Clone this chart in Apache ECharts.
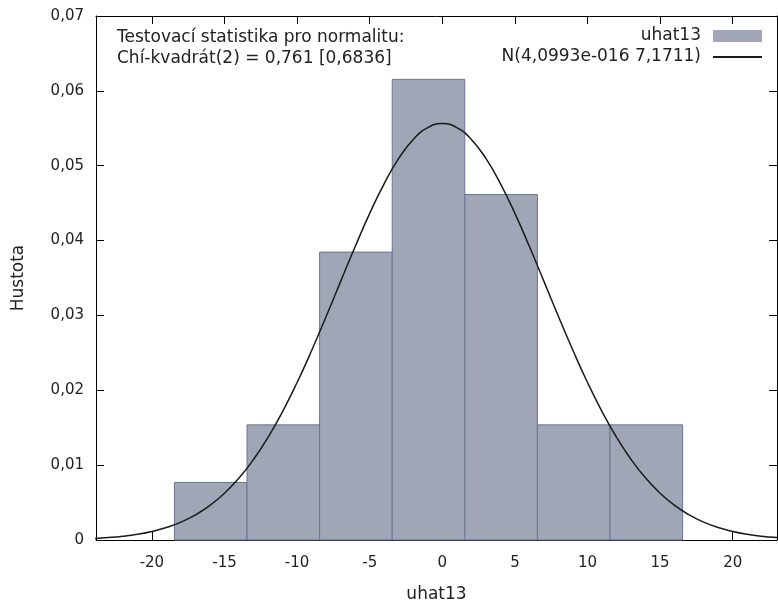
<!DOCTYPE html>
<html>
<head>
<meta charset="utf-8">
<script src="https://cdn.jsdelivr.net/npm/echarts@6/dist/echarts.min.js"></script>
<style>html,body{margin:0;padding:0;background:#fff}#c{width:778px;height:603px}</style>
</head>
<body>
<div id="c"></div>
<script>
// Histogram bins (edges) and densities
const binEdges = [-18.45, -13.45, -8.45, -3.45, 1.55, 6.55, 11.55, 16.55];
const densities = [0.00769, 0.01538, 0.03846, 0.06154, 0.04615, 0.01538, 0.01538];
// Normal curve points
const curveX = [-24,-23,-22,-21,-20,-19,-18,-17,-16,-15,-14,-13,-12,-11,-10,-9,-8,-7,-6,-5,-4,-3,-2,-1,0,1,2,3,4,5,6,7,8,9,10,11,12,13,14,15,16,17,18,19,20,21,22,23,24];
const curveY = [0.000206,0.000325,0.000503,0.000764,0.00114,0.00166,0.00238,0.00335,0.00462,0.00624,0.00827,0.01076,0.01372,0.01716,0.02104,0.02531,0.02986,0.03455,0.03920,0.04363,0.04762,0.05097,0.05351,0.05509,0.05563,0.05509,0.05351,0.05097,0.04762,0.04363,0.03920,0.03455,0.02986,0.02531,0.02104,0.01716,0.01372,0.01076,0.00827,0.00624,0.00462,0.00335,0.00238,0.00166,0.00114,0.000764,0.000503,0.000325,0.000206];
const xTicks = [-20, -15, -10, -5, 0, 5, 10, 15, 20];
const yTicks = [0, 0.01, 0.02, 0.03, 0.04, 0.05, 0.06, 0.07];
const seriesNames = ['uhat13', 'N(4,0993e-016 7,1711)'];
const annotation = ['Testovací statistika pro normalitu:', 'Chí-kvadrát(2) = 0,761 [0,6836]'];

const FONT = 'DejaVu Sans';
const TXT = '#222';
const FS = 17;
const chart = echarts.init(document.getElementById('c'));
const barData = densities.map((d, i) => [binEdges[i], binEdges[i + 1], d]);
const fmtY = v => v === 0 ? '0' : v.toFixed(2).replace('.', ',');
const axLine = { show: true, onZero: false, lineStyle: { color: '#000', width: 1 } };

chart.setOption({
  animation: false,
  textStyle: { fontFamily: FONT },
  grid: { left: 96, top: 16, right: 1, bottom: 63, containLabel: false, outerBoundsMode: 'none' },
  legend: {
    orient: 'vertical', right: 10, top: 22, align: 'right',
    itemWidth: 49, itemHeight: 12, itemGap: 3,
    textStyle: { fontFamily: FONT, fontSize: FS, color: TXT, lineHeight: 18, padding: [0, 7, 0, 0] },
    data: [
      { name: seriesNames[0], icon: 'rect' },
      { name: seriesNames[1], itemStyle: { color: 'transparent', borderWidth: 0, opacity: 0 } }
    ]
  },
  graphic: [{
    type: 'text', left: 117, top: 27,
    style: { text: annotation.join('\n'), font: FS + 'px ' + FONT, fill: TXT, lineHeight: 21 }
  }],
  xAxis: [{
    type: 'value', min: -23.85, max: 23.05, position: 'bottom',
    name: 'uhat13', nameLocation: 'middle', nameGap: 46,
    nameTextStyle: { fontFamily: FONT, fontSize: FS, color: TXT },
    axisLine: axLine,
    axisTick: { show: true, inside: true, length: 8, customValues: xTicks, lineStyle: { color: '#000' } },
    axisLabel: { customValues: xTicks, fontFamily: FONT, fontSize: 15, color: TXT, margin: 16 },
    splitLine: { show: false }
  }, {
    type: 'value', min: -23.85, max: 23.05, position: 'top',
    axisLine: axLine,
    axisTick: { show: true, inside: true, length: 8, customValues: xTicks, lineStyle: { color: '#000' } },
    axisLabel: { show: false }, splitLine: { show: false }
  }],
  yAxis: [{
    type: 'value', min: 0, max: 0.07, interval: 0.01, position: 'left',
    name: 'Hustota', nameLocation: 'middle', nameGap: 69, nameRotate: 90,
    nameTextStyle: { fontFamily: FONT, fontSize: FS, color: TXT },
    axisLine: axLine,
    axisTick: { show: true, inside: true, length: 8, lineStyle: { color: '#000' } },
    axisLabel: { formatter: fmtY, fontFamily: FONT, fontSize: 15, color: TXT, margin: 12 },
    splitLine: { show: false }
  }, {
    type: 'value', min: 0, max: 0.07, interval: 0.01, position: 'right',
    axisLine: axLine,
    axisTick: { show: true, inside: true, length: 8, lineStyle: { color: '#000' } },
    axisLabel: { show: false }, splitLine: { show: false }
  }],
  series: [{
    name: seriesNames[0], type: 'custom', xAxisIndex: 0, yAxisIndex: 0,
    itemStyle: { color: '#a0a6b6', borderColor: '#6b7590' },
    renderItem: function (params, api) {
      const p0 = api.coord([api.value(0), 0]);
      const p1 = api.coord([api.value(1), api.value(2)]);
      return {
        type: 'rect',
        shape: { x: p0[0], y: p1[1], width: p1[0] - p0[0], height: p0[1] - p1[1] },
        style: { fill: '#a0a6b6', stroke: '#6b7590', lineWidth: 1 }
      };
    },
    encode: { x: [0, 1], y: 2 },
    data: barData, z: 2
  }, {
    name: seriesNames[1], type: 'line', xAxisIndex: 0, yAxisIndex: 0,
    data: curveX.map((x, i) => [x, curveY[i]]),
    smooth: true, symbol: 'none', showSymbol: false, clip: true,
    lineStyle: { color: '#1a1a1a', width: 1.5 },
    itemStyle: { color: '#1a1a1a' }, z: 3
  }]
});
</script>
</body>
</html>
